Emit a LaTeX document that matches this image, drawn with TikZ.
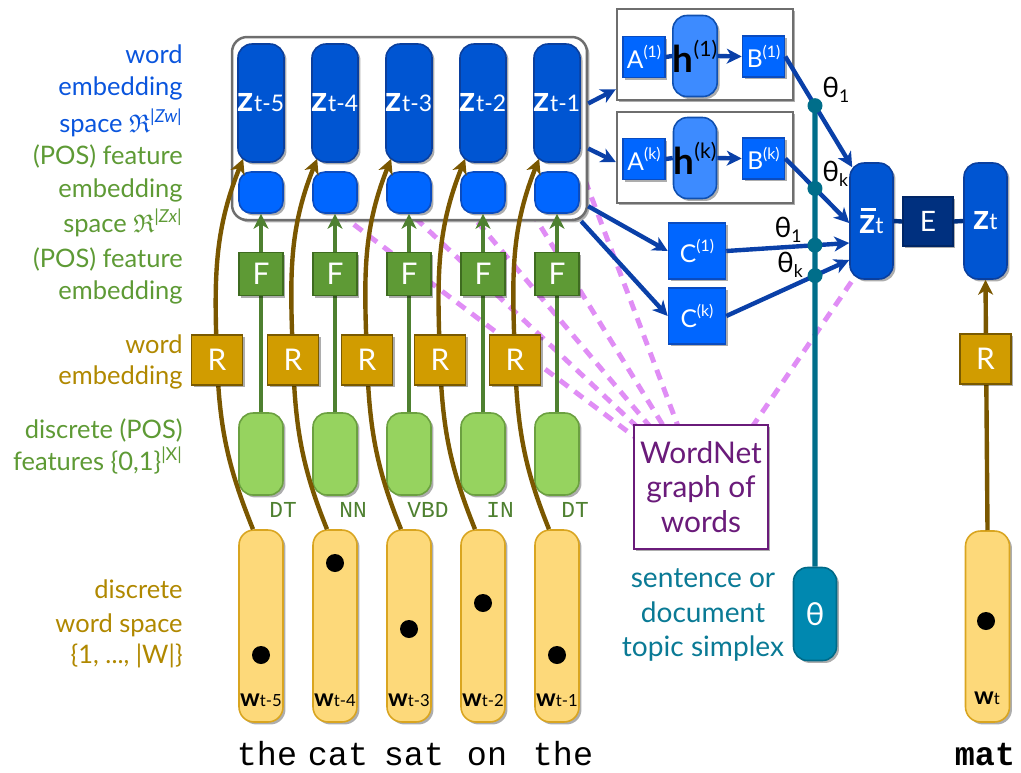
\documentclass[tikz,border=0pt]{standalone}
\usepackage{fontspec}
\usepackage{amssymb}
\setmainfont{Lato}
\setmonofont{Liberation Mono}
\usetikzlibrary{arrows.meta,shadows,calc}
\definecolor{zdark}{HTML}{0055D2}
\definecolor{zdarkb}{HTML}{0A3F9E}
\definecolor{zlight}{HTML}{0066FF}
\definecolor{zlightb}{HTML}{0A4CC0}
\definecolor{hblue}{HTML}{3D8BFF}
\definecolor{hblueb}{HTML}{1050B0}
\definecolor{navy}{HTML}{00307F}
\definecolor{fgreen}{HTML}{5E9A35}
\definecolor{fgreenb}{HTML}{3E6B20}
\definecolor{rgold}{HTML}{D19C00}
\definecolor{rgoldb}{HTML}{7A5A00}
\definecolor{posg}{HTML}{96D35F}
\definecolor{posgb}{HTML}{6BA040}
\definecolor{wyel}{HTML}{FDD97A}
\definecolor{wyelb}{HTML}{D9A520}
\definecolor{tealbox}{HTML}{0088B0}
\definecolor{tealboxb}{HTML}{006A88}
\definecolor{tealline}{HTML}{006E8A}
\definecolor{brownl}{HTML}{7A5700}
\definecolor{greenl}{HTML}{4E8030}
\definecolor{bluel}{HTML}{0A40A8}
\definecolor{pinkl}{HTML}{E08DF5}
\definecolor{purp}{HTML}{6A1B7A}
\definecolor{lblue}{HTML}{0A55DD}
\definecolor{lgreen}{HTML}{5E9A35}
\definecolor{lbrown}{HTML}{B08800}
\definecolor{lteal}{HTML}{0A7A95}
\definecolor{grayb}{HTML}{6E6E6E}
\newcommand\lsub[1]{\raisebox{-0.35ex}{\fontsize{10}{10}\selectfont #1}}
\newcommand\lsupx[1]{\raisebox{0.85ex}{\fontsize{9}{9}\selectfont #1}}
\newcommand\zlab[1]{{\fontsize{20}{20}\selectfont\bfseries z}{\fontsize{13}{13}\selectfont #1}}
\newcommand\zbarlab{{\fontsize{20}{20}\selectfont\bfseries\rlap{\hspace{0.04em}\raisebox{0.66em}{\rule{0.44em}{0.08em}}}z}{\fontsize{13}{13}\selectfont t}}
\newcommand\wlab[1]{{\fontsize{14}{14}\selectfont\bfseries w}{\fontsize{9.5}{9.5}\selectfont #1}}
\begin{document}
\begin{tikzpicture}[x=0.02cm,y=0.02cm,
  shad/.style={drop shadow={shadow xshift=1.4pt,shadow yshift=-1.4pt,fill=black,opacity=0.32}},
  box/.style={inner sep=0pt, line width=0.9pt, shad},
  zbig/.style={box, fill=zdark, draw=zdarkb, rounded corners=0.28cm, minimum width=0.88cm, minimum height=2.36cm, text=white},
  zsmall/.style={box, fill=zlight, draw=zlightb, rounded corners=0.24cm, minimum width=0.88cm, minimum height=0.82cm},
  fbox/.style={box, fill=fgreen, draw=fgreenb, minimum width=0.88cm, minimum height=0.86cm, text=white, font=\fontsize{17}{17}\selectfont},
  rbox/.style={box, fill=rgold, draw=rgoldb, minimum width=1.02cm, minimum height=1.0cm, text=white, font=\fontsize{17}{17}\selectfont},
  posbox/.style={box, fill=posg, draw=posgb, rounded corners=0.28cm, minimum width=0.88cm, minimum height=1.64cm},
  wbox/.style={box, fill=wyel, draw=wyelb, rounded corners=0.3cm, minimum width=0.88cm, minimum height=3.84cm},
  wdot/.style={circle, fill=black, inner sep=0pt, minimum size=0.36cm},
  sqbox/.style={box, fill=zlight, draw=zlightb, text=white},
  hbox/.style={box, fill=hblue, draw=hblueb, rounded corners=0.28cm, minimum width=0.86cm, minimum height=1.62cm, font=\fontsize{21}{21}\selectfont},
  frame/.style={draw=grayb, line width=1.4pt, fill=white, shad, inner sep=0pt},
  tdot/.style={circle, fill=tealline, inner sep=0pt, minimum size=0.3cm},
  lab/.style={anchor=base east, inner sep=0pt, font=\fontsize{14.5}{17}\selectfont},
  tag/.style={inner sep=0pt, text=greenl, font=\ttfamily\fontsize{13}{13}\selectfont},
  wordt/.style={anchor=base, inner sep=0pt, font=\ttfamily\fontsize{19}{19}\selectfont},
  theta/.style={inner sep=0pt, font=\fontsize{16}{16}\selectfont},
  arr/.style={-{Stealth[length=8.5pt,width=8.5pt,inset=2.5pt]}},
  brownarr/.style={arr, draw=brownl, line width=2.5pt},
  greenarr/.style={arr, draw=greenl, line width=2.5pt},
  bluearr/.style={arr, draw=bluel, line width=2.5pt},
  blueln/.style={draw=bluel, line width=2.5pt},
  navyln/.style={draw=navy, line width=2.5pt},
  tealln/.style={draw=tealline, line width=3pt},
  pinkln/.style={draw=pinkl, line width=2.8pt, dash pattern=on 6pt off 4.5pt}
]
\useasboundingbox (0,0) rectangle (1021,-772);

% ---------- pink dashed lines (drawn first, behind everything) ----------
\coordinate (wnc) at (701,-487);
\coordinate (zbe) at (893,-221);
\coordinate (p1) at (295,-180);
\coordinate (p2) at (375,-180);
\coordinate (p3) at (442,-180);
\coordinate (p4) at (512,-180);
\coordinate (p5) at (585,-180);
\foreach \k in {1,...,5}{\draw[pinkln] (p\k) -- (wnc);}
\draw[pinkln] (zbe) -- ([xshift=0.2cm]wnc);

% ---------- left labels ----------
\node[lab, text=lblue] (lb1) at (183,-63) {word};
\node[lab, text=lblue] (lb2) at (183,-95) {embedding};
\node[lab, text=lblue] (lb3) at (183,-132) {space $\mathfrak{R}$\textsuperscript{\itshape |Zw|}};
\node[lab, text=lgreen] (lg1) at (183,-164) {(POS) feature};
\node[lab, text=lgreen] (lg2) at (183,-197) {embedding};
\node[lab, text=lgreen] (lg3) at (183,-232) {space $\mathfrak{R}$\textsuperscript{\itshape |Zx|}};
\node[lab, text=lgreen] (lg4) at (183,-267) {(POS) feature};
\node[lab, text=lgreen] (lg5) at (183,-299) {embedding};
\node[lab, text=lbrown] (lr1) at (183,-353) {word};
\node[lab, text=lbrown] (lr2) at (183,-384) {embedding};
\node[lab, text=lgreen] (lg6) at (183,-438) {discrete (POS)};
\node[lab, text=lgreen] (lg7) at (183,-470) {features \{0,1\}\textsuperscript{|X|}};
\node[lab, text=lbrown] (lr3) at (183,-598) {discrete};
\node[lab, text=lbrown] (lr4) at (183,-632) {word space};
\node[lab, text=lbrown] (lr5) at (183,-663) {\{1, ..., |W|\}};

% ---------- frames ----------
\node[frame, rounded corners=0.3cm, minimum width=7.1cm, minimum height=3.66cm] (cont) at (409.5,-128.5) {};
\node[frame, minimum width=3.52cm, minimum height=1.82cm] (topbox) at (705,-54.5) {};
\node[frame, minimum width=3.52cm, minimum height=1.82cm] (botbox) at (705,-157.5) {};

% ---------- columns ----------
\foreach \i/\x/\rx/\s/\dy/\tg/\tx/\ww/\wx in {1/261/217/5/655/DT/283/the/267, 2/335/293/4/563/NN/353/cat/338, 3/409/367/3/629/VBD/428/sat/414, 4/483/440/2/603/IN/500/on/487, 5/557/515/1/655/DT/575/the/563}{
  \node[zbig] (z\i) at (\x,-103) {\zlab{t-\s}};
  \node[zsmall] (s\i) at (\x,-192.5) {};
  \node[posbox] (pos\i) at (\x,-454) {};
  \node[tag] (tag\i) at (\tx,-510) {\tg};
  \node[wbox] (w\i) at (\x,-626) {};
  \node[wdot] (dot\i) at (\x,-\dy) {};
  \node[inner sep=0pt] (wl\i) at (\x,-700) {\wlab{t-\s}};
  \node[wordt] (word\i) at (\wx,-765) {\ww};
  \coordinate (rc\i) at (\rx,-360);
  \draw[greenarr] (pos\i.north) -- (s\i.south);
  \draw[brownarr] ([xshift=-0.16cm]w\i.north) to[out=112,in=-88] (rc\i) to[out=92,in=-112] ([xshift=0.12cm,yshift=0.08cm]z\i.south west);
  \node[fbox] (f\i) at (\x,-274) {F};
  \node[rbox] (r\i) at (rc\i) {R};
}

% ---------- right part ----------
\node[sqbox, minimum width=0.84cm, minimum height=0.82cm, font=\fontsize{14}{14}\selectfont] (A1) at (644,-57) {A\lsupx{(1)}};
\node[hbox] (h1) at (695,-56) {\textbf{h}\lsupx{\fontsize{12}{12}\selectfont(1)}};
\node[sqbox, minimum width=0.84cm, minimum height=0.82cm, font=\fontsize{14}{14}\selectfont] (B1) at (763.5,-56.5) {B\lsupx{(1)}};
\node[sqbox, minimum width=0.84cm, minimum height=0.82cm, font=\fontsize{14}{14}\selectfont] (Ak) at (644,-159) {A\lsupx{(k)}};
\node[hbox] (hk) at (695,-158) {\textbf{h}\lsupx{\fontsize{12}{12}\selectfont(k)}};
\node[sqbox, minimum width=0.84cm, minimum height=0.82cm, font=\fontsize{14}{14}\selectfont] (Bk) at (763.5,-158.5) {B\lsupx{(k)}};
\draw[blueln] (A1.east) -- (h1.west);
\draw[bluearr] (h1.east) -- (B1.west);
\draw[blueln] (Ak.east) -- (hk.west);
\draw[bluearr] (hk.east) -- (Bk.west);

\node[sqbox, minimum width=1.14cm, minimum height=1.12cm, font=\fontsize{14}{14}\selectfont] (C1) at (697,-251) {C\lsupx{(1)}};
\node[sqbox, minimum width=1.14cm, minimum height=1.12cm, font=\fontsize{14}{14}\selectfont] (Ck) at (697,-316) {C\lsupx{(k)}};

\draw[bluearr] ([yshift=0.5cm]cont.east) -- ([yshift=0.24cm]topbox.south west);
\draw[bluearr] ([yshift=-0.4cm]cont.east) -- ([yshift=-0.09cm]botbox.west);
\draw[bluearr] ([yshift=0.3cm]cont.south east) -- (C1.west);
\draw[bluearr] ([xshift=-0.14cm]cont.south east) -- (Ck.west);

\node[zbig, minimum height=2.32cm, minimum width=0.86cm] (zbar) at (871.5,-221) {\zbarlab};
\node[box, fill=navy, draw=navy!80!black, minimum width=1.0cm, minimum height=0.98cm, text=white, font=\fontsize{16}{16}\selectfont] (E) at (928,-221.5) {E};
\node[zbig, minimum height=2.32cm, minimum width=0.86cm] (zt) at (985.5,-221) {\zlab{t}};
\draw[navyln] (zbar.east) -- (E.west);
\draw[navyln] (E.east) -- (zt.west);

\node[wbox, minimum height=3.82cm] (wt) at (987.5,-626.5) {};
\node[wdot] (dott) at (986,-621) {};
\node[inner sep=0pt] (wlt) at (987,-698) {\wlab{t}};
\node[wordt, font=\ttfamily\bfseries\fontsize{19}{19}\selectfont] (mat) at (985,-765) {mat};
\draw[brownarr] (wt.north) -- (zt.south);
\node[rbox] (rt) at (985.5,-359) {R};

\node[box, fill=tealbox, draw=tealboxb, rounded corners=0.28cm, minimum width=0.86cm, minimum height=1.86cm, text=white, font=\fontsize{18}{18}\selectfont] (th) at (815,-614) {θ};
\node[align=center, text=lteal, font=\fontsize{16}{19.8}\selectfont] (topic) at (703,-615) {sentence or\\document\\topic simplex};
\node[draw=purp, line width=1.3pt, fill=white, minimum width=2.68cm, minimum height=2.48cm, align=center, text=purp, font=\fontsize{17}{19.8}\selectfont, shad] (wn) at (wnc) {WordNet\\graph of\\words};

% connector end points on zbar
\coordinate (zin1) at ([xshift=0.06cm,yshift=-0.1cm]zbar.north west);
\coordinate (zin2) at ([yshift=-0.04cm]zbar.west);
\coordinate (zin3) at ([yshift=-0.44cm]zbar.west);
\coordinate (zin4) at ([yshift=-0.78cm]zbar.west);
\coordinate (vt) at (815,0);
\coordinate (vb) at (815,-800);
\coordinate (d1c) at (intersection of B1.east--zin1 and vt--vb);

\draw[tealln] (th.north) -- (d1c);
\draw[bluearr] (B1.east) -- (zin1);
\draw[bluearr] (Bk.east) -- (zin2);
\draw[bluearr] (C1.east) -- (zin3);
\draw[bluearr] (Ck.east) -- (zin4);

\node[tdot] (d1) at (d1c) {};
\node[tdot] (d2) at (intersection of Bk.east--zin2 and vt--vb) {};
\node[tdot] (d3) at (intersection of C1.east--zin3 and vt--vb) {};
\node[tdot] (d4) at (intersection of Ck.east--zin4 and vt--vb) {};

\node[theta, anchor=west] (th1) at (822,-90) {θ\lsub{1}};
\node[theta, anchor=west] (th2) at (822,-174) {θ\lsub{k}};
\node[theta] (th3) at (788,-230) {θ\lsub{1}};
\node[theta] (th4) at (790,-265) {θ\lsub{k}};
\end{tikzpicture}
\end{document}
